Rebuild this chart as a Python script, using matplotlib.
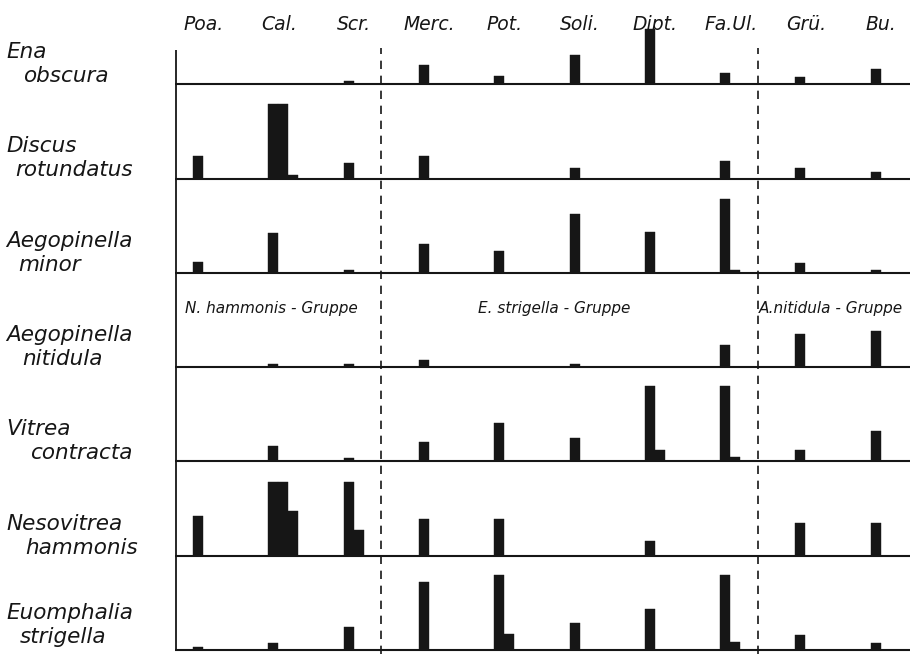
import matplotlib
matplotlib.use("Agg")
import matplotlib.pyplot as plt
import numpy as np

# sites (columns) and species (rows)
sites = ["Poa.", "Cal.", "Scr.", "Merc.", "Pot.", "Soli.", "Dipt.", "Fa.Ul.", "Grü.", "Bu."]
species = [("Ena", "obscura"),
           ("Discus", "rotundatus"),
           ("Aegopinella", "minor"),
           ("Aegopinella", "nitidula"),
           ("Vitrea", "contracta"),
           ("Nesovitrea", "hammonis"),
           ("Euomphalia", "strigella")]
groups = ["N. hammonis - Gruppe", "E. strigella - Gruppe", "A.nitidula - Gruppe"]

# bar heights (arbitrary units), one row per species
first_bar = [
    [0, 0, 3, 19, 8, 29, 55, 11, 7, 15],
    [23, 75, 16, 23, 0, 11, 0, 18, 11, 7],
    [11, 40, 3, 29, 22, 59, 41, 74, 10, 3],
    [0, 3, 3, 7, 0, 3, 0, 22, 33, 36],
    [0, 15, 3, 19, 38, 23, 75, 75, 11, 30],
    [40, 74, 74, 37, 37, 0, 15, 0, 33, 33],
    [3, 7, 23, 68, 75, 27, 41, 75, 15, 7],
]
second_bar = [
    [0, 0, 0, 0, 0, 0, 0, 0, 0, 0],
    [0, 75, 0, 0, 0, 0, 0, 0, 0, 0],
    [0, 0, 0, 0, 0, 0, 0, 3, 0, 0],
    [0, 0, 0, 0, 0, 0, 0, 0, 0, 0],
    [0, 0, 0, 0, 0, 0, 11, 4, 0, 0],
    [0, 74, 26, 0, 0, 0, 0, 0, 0, 0],
    [0, 0, 0, 0, 16, 0, 0, 8, 0, 0],
]
third_bar = [
    [0, 0, 0, 0, 0, 0, 0, 0, 0, 0],
    [0, 4, 0, 0, 0, 0, 0, 0, 0, 0],
    [0, 0, 0, 0, 0, 0, 0, 0, 0, 0],
    [0, 0, 0, 0, 0, 0, 0, 0, 0, 0],
    [0, 0, 0, 0, 0, 0, 0, 0, 0, 0],
    [0, 45, 0, 0, 0, 0, 0, 0, 0, 0],
    [0, 0, 0, 0, 0, 0, 0, 0, 0, 0],
]

W, H = 918, 654
fig = plt.figure(figsize=(W / 100, H / 100), dpi=100)
ax = fig.add_axes([175 / W, 0, (912 - 175) / W, 1])
x0, x1 = -0.239, 9.548
ax.set_xlim(x0, x1)
ax.set_ylim(0, H)
ax.axis("off")

col = "#161616"
bw = 0.133
row_gap = 94.3
bases = [4 + (6 - r) * row_gap for r in range(7)]
xs = np.arange(len(sites))

for r, base in enumerate(bases):
    for k, vals in enumerate([first_bar, second_bar, third_bar]):
        v = np.array(vals[r], dtype=float)
        ax.bar(xs + k * bw, v, width=bw, bottom=base, align="edge",
               color=col, edgecolor=col, linewidth=0.3)
    ax.hlines(base, x0, 9.52, color=col, lw=1.5)

# left axis and group separators
ax.vlines(x0 + 0.01, bases[-1], H - 50, color=col, lw=1.3)
for xd in (2.5, 7.5):
    ax.vlines(xd, 0, H - 48, color=col, lw=1.2, linestyles=(0, (5, 4)))

font = dict(family="DejaVu Sans", style="italic", color=col)

# site labels along the top
for i, s in enumerate(sites):
    ax.text(i + 0.14, H - 24, s, ha="center", va="center", fontsize=13.5, **font)

# species labels on the left (two lines, second one indented)
indent = [23, 15, 18, 22, 30, 25, 20]
lift = [0, 0, 0, 0, 0, 0, 5]
for r, (g, sp) in enumerate(species):
    top_y = bases[r] + 26 + lift[r]
    low_y = bases[r] + 2 + lift[r]
    fig.text(6 / W, top_y / H, g, ha="left", va="baseline", fontsize=15.5, **font)
    fig.text(indent[r] / W, low_y / H, sp, ha="left", va="baseline",
             fontsize=15.5, **font)

# group labels between rows 3 and 4
gy = H - 308
ax.text(-0.11, gy, groups[0], ha="left", va="center", fontsize=11, **font)
ax.text(3.78, gy, groups[1], ha="left", va="center", fontsize=11, **font)
ax.text(7.51, gy, groups[2], ha="left", va="center", fontsize=11, **font)

fig.savefig("out.png", dpi=100, facecolor="white")
